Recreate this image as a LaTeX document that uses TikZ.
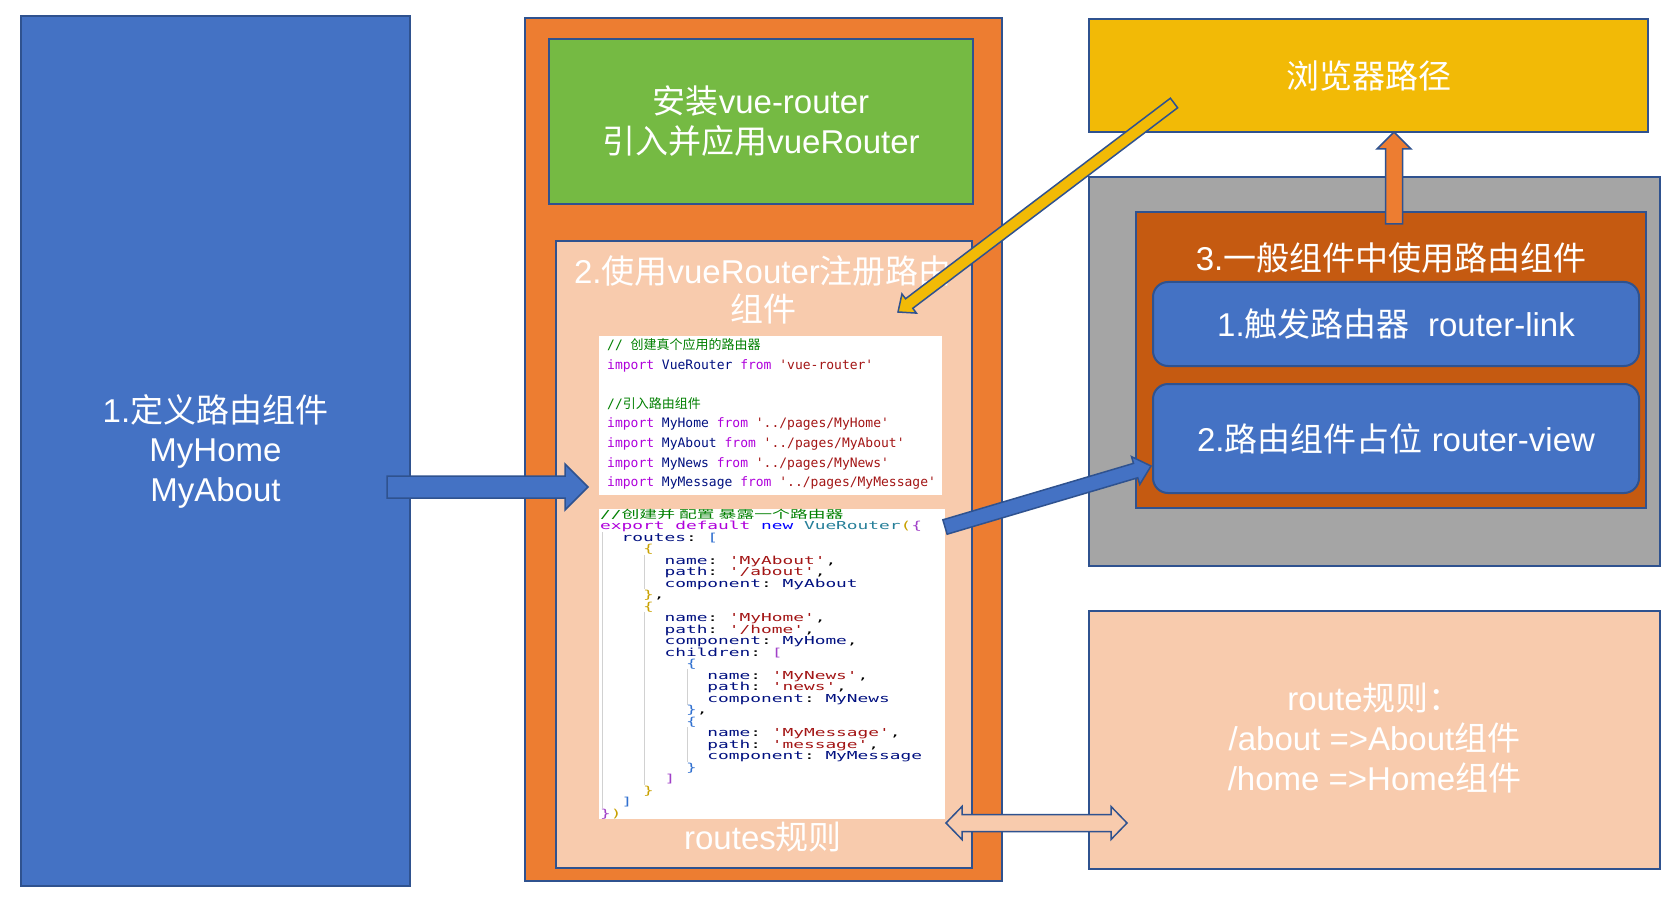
\documentclass[tikz,border=0pt]{standalone}
\usepackage{fontspec}
\setmainfont{Liberation Sans}
\setmonofont{DejaVu Sans Mono}
\newfontfamily\zhfont{Noto Sans CJK SC}
\newcommand{\zh}[1]{{\zhfont #1}}
\usepackage{graphicx}
\usepackage{tikz}
\usetikzlibrary{positioning,calc}

\definecolor{boxblue}{HTML}{4472C4}
\definecolor{edgeblue}{HTML}{2F528F}
\definecolor{boxorange}{HTML}{ED7D31}
\definecolor{boxgreen}{HTML}{75BA43}
\definecolor{boxpeach}{HTML}{F8CBAD}
\definecolor{boxyellow}{HTML}{F2BA06}
\definecolor{boxgray}{HTML}{A5A5A5}
\definecolor{boxrust}{HTML}{C55A11}
\definecolor{c_cmt}{HTML}{008000}
\definecolor{c_kw}{HTML}{AF00DB}
\definecolor{c_id}{HTML}{001080}
\definecolor{c_str}{HTML}{A31515}
\definecolor{c_new}{HTML}{0000FF}
\definecolor{c_cls}{HTML}{267F99}
\definecolor{c_gold}{HTML}{C9A100}
\definecolor{c_purple}{HTML}{A040C8}
\definecolor{c_blue}{HTML}{3070D0}

% code colouring
\newcommand{\ccm}[1]{\textcolor{c_cmt}{#1}}
\newcommand{\ckw}[1]{\textcolor{c_kw}{#1}}
\newcommand{\cid}[1]{\textcolor{c_id}{#1}}
\newcommand{\cstr}[1]{\textcolor{c_str}{#1}}
\newcommand{\cnew}[1]{\textcolor{c_new}{#1}}
\newcommand{\ccls}[1]{\textcolor{c_cls}{#1}}
\newcommand{\cb}[1]{\textcolor{c_gold}{#1}}
\newcommand{\cp}[1]{\textcolor{c_purple}{#1}}
\newcommand{\cbl}[1]{\textcolor{c_blue}{#1}}
% one code line, fixed line pitch
\newcommand{\cl}[1]{\hbox{#1}}

% [style]{start}{tip}{shaft half width}{head half width}{head length}
\newcommand{\blockarrow}[6][]{%
  \draw[#1] let \p1=(#2), \p2=(#3),
    \n1={atan2(\y2-\y1,\x2-\x1)}, \n2={veclen(\x2-\x1,\y2-\y1)-#6} in
    ($(\p1)+(\n1+90:#4)$) -- ($(\p1)+(\n1:\n2)+(\n1+90:#4)$) --
    ($(\p1)+(\n1:\n2)+(\n1+90:#5)$) -- (\p2) --
    ($(\p1)+(\n1:\n2)+(\n1-90:#5)$) -- ($(\p1)+(\n1:\n2)+(\n1-90:#4)$) --
    ($(\p1)+(\n1-90:#4)$) -- cycle;}

\begin{document}
\begin{tikzpicture}[x=1pt, y=1pt,
  box/.style={draw=edgeblue, line width=2pt, inner sep=0pt, text=white, align=center,
    font=\fontsize{33}{38}\selectfont},
  title/.style={text=white, align=center, font=\fontsize{33}{38}\selectfont},
  code_bg/.style={fill=white, inner sep=0pt},
  code_txt/.style={inner sep=0pt, font=\ttfamily\frenchspacing},
  guide/.style={draw=black!18, line width=0.8pt},
  arrow_box/.style={draw=edgeblue, line width=1.5pt, line join=miter}]
\path[fill=white, use as bounding box] (0,0) rectangle (1667,-901);

% 1. left column
\node[box, fill=boxblue, minimum width=389pt, minimum height=870pt, font=\fontsize{33}{39.5}\selectfont]
  (box_define) at (215.5,-451) {1.\zh{定义路由组件}\\MyHome\\MyAbout};

% 2. middle column
\node[box, fill=boxorange, minimum width=477pt, minimum height=863pt] (box_setup) at (763.5,-449.5) {};
\node[box, fill=boxgreen, minimum width=424pt, minimum height=165pt, font=\fontsize{33}{40}\selectfont]
  (box_install) at (761,-121.5) {\zh{安装}vue-router\\\zh{引入并应用}vueRouter};
\node[box, fill=boxpeach, minimum width=416pt, minimum height=627pt] (box_register) at (764,-554.5) {};
\node[title] (register_title) at (763,-290) {2.\zh{使用}vueRouter\zh{注册路由}\\\zh{组件}};
\node[title] (routes_title) at (763,-837) {routes\zh{规则}};

\node[code_bg, minimum width=343pt, minimum height=159pt] (bg_import) at (770.5,-415.5) {};
\node[code_bg, minimum width=346pt, minimum height=310pt] (bg_routes) at (772,-664) {};

\node[code_txt, anchor=north west] (code_import) at (607,-335.5) {\fontsize{13}{19.6}\selectfont
  \begin{tabular}{@{}l@{}}
  \ccm{// \zh{创建真个应用的路由器}}\\
  \ckw{import} \cid{VueRouter} \ckw{from} \cstr{'vue-router'}\\
  ~\\
  \ccm{//\zh{引入路由组件}}\\
  \ckw{import} \cid{MyHome} \ckw{from} \cstr{'../pages/MyHome'}\\
  \ckw{import} \cid{MyAbout} \ckw{from} \cstr{'../pages/MyAbout'}\\
  \ckw{import} \cid{MyNews} \ckw{from} \cstr{'../pages/MyNews'}\\
  \ckw{import} \cid{MyMessage} \ckw{from} \cstr{'../pages/MyMessage'}
  \end{tabular}};

\draw[guide] (602,-532) -- (602,-808);
\draw[guide] (644,-555) -- (644,-589);
\draw[guide] (644,-612) -- (644,-785);
\draw[guide] (687,-669) -- (687,-705);
\draw[guide] (687,-727) -- (687,-762);

\node[code_txt, anchor=base west] (code_routes) at (600,-518) {\scalebox{1.62}[1]{\vtop{%
  \fontsize{11}{11.5}\selectfont\lineskiplimit=-\maxdimen
  \cl{\ccm{//\zh{创建并~配置~暴露一个路由器}}}
  \cl{\ckw{export} \ckw{default} \cnew{new} \ccls{VueRouter}\cb{(}\cp{\{}}
  \cl{~~\cid{routes}: \cbl{[}}
  \cl{~~~~\cb{\{}}
  \cl{~~~~~~\cid{name}: \cstr{'MyAbout'},}
  \cl{~~~~~~\cid{path}: \cstr{'/about'},}
  \cl{~~~~~~\cid{component}: \cid{MyAbout}}
  \cl{~~~~\cb{\}},}
  \cl{~~~~\cb{\{}}
  \cl{~~~~~~\cid{name}: \cstr{'MyHome'},}
  \cl{~~~~~~\cid{path}: \cstr{'/home'},}
  \cl{~~~~~~\cid{component}: \cid{MyHome},}
  \cl{~~~~~~\cid{children}: \cp{[}}
  \cl{~~~~~~~~\cbl{\{}}
  \cl{~~~~~~~~~~\cid{name}: \cstr{'MyNews'},}
  \cl{~~~~~~~~~~\cid{path}: \cstr{'news'},}
  \cl{~~~~~~~~~~\cid{component}: \cid{MyNews}}
  \cl{~~~~~~~~\cbl{\}},}
  \cl{~~~~~~~~\cbl{\{}}
  \cl{~~~~~~~~~~\cid{name}: \cstr{'MyMessage'},}
  \cl{~~~~~~~~~~\cid{path}: \cstr{'message'},}
  \cl{~~~~~~~~~~\cid{component}: \cid{MyMessage}}
  \cl{~~~~~~~~\cbl{\}}}
  \cl{~~~~~~\cp{]}}
  \cl{~~~~\cb{\}}}
  \cl{~~\cbl{]}}
  \cl{\cp{\}}\cb{)}}}}};

% 3. right column
\node[box, fill=boxyellow, minimum width=559pt, minimum height=113pt] (box_path) at (1368.5,-75.5) {\zh{浏览器路径}};
\node[box, fill=boxgray, minimum width=571pt, minimum height=389pt] (box_gray) at (1374.5,-371.5) {};
\node[box, fill=boxrust, minimum width=510pt, minimum height=296pt] (box_use) at (1391,-360) {};
\node[title] (use_title) at (1391,-258) {3.\zh{一般组件中使用路由组件}};
\node[box, fill=boxblue, rounded corners=15pt, minimum width=486pt, minimum height=84pt]
  (box_link) at (1396,-324) {1.\zh{触发路由器}~~router-link};
\node[box, fill=boxblue, rounded corners=15pt, minimum width=486pt, minimum height=109pt]
  (box_view) at (1396,-438.5) {2.\zh{路由组件占位} router-view};
\node[box, fill=boxpeach, minimum width=571pt, minimum height=258pt] (box_rule) at (1374.5,-740) {};
\node[title, font=\fontsize{33}{40}\selectfont] (rule_text) at (1374.5,-738)
  {route\zh{规则：}\\/about =>About\zh{组件}\\/home =>Home\zh{组件}};

% arrows
\coordinate (define_out) at (387,-487);
\coordinate (import_in) at (588,-487);
\coordinate (routes_out) at (945,-527);
\coordinate (view_in) at (1151,-466);
\coordinate (path_out) at (1174,-103);
\coordinate (register_in) at (898,-312);
\coordinate (use_out) at (1394,-224);
\coordinate (path_in) at (1394,-132);
\coordinate (dbl_l) at (946,-823);
\coordinate (dbl_r) at (1127,-823);

\blockarrow[arrow_box, fill=boxblue]{define_out}{import_in}{11}{23}{23}
\blockarrow[arrow_box, fill=boxblue]{routes_out}{view_in}{7.5}{14.5}{16}
\blockarrow[arrow_box, fill=boxyellow]{path_out}{register_in}{6}{12}{14}
\blockarrow[arrow_box, fill=boxorange]{use_out}{path_in}{8.5}{17}{17}
\draw[arrow_box, fill=boxpeach] (dbl_l) -- ($(dbl_l)+(16,16.5)$) -- ($(dbl_l)+(16,8.5)$)
  -- ($(dbl_r)+(-16,8.5)$) -- ($(dbl_r)+(-16,16.5)$) -- (dbl_r) -- ($(dbl_r)+(-16,-16.5)$)
  -- ($(dbl_r)+(-16,-8.5)$) -- ($(dbl_l)+(16,-8.5)$) -- ($(dbl_l)+(16,-16.5)$) -- cycle;
\end{tikzpicture}
\end{document}
